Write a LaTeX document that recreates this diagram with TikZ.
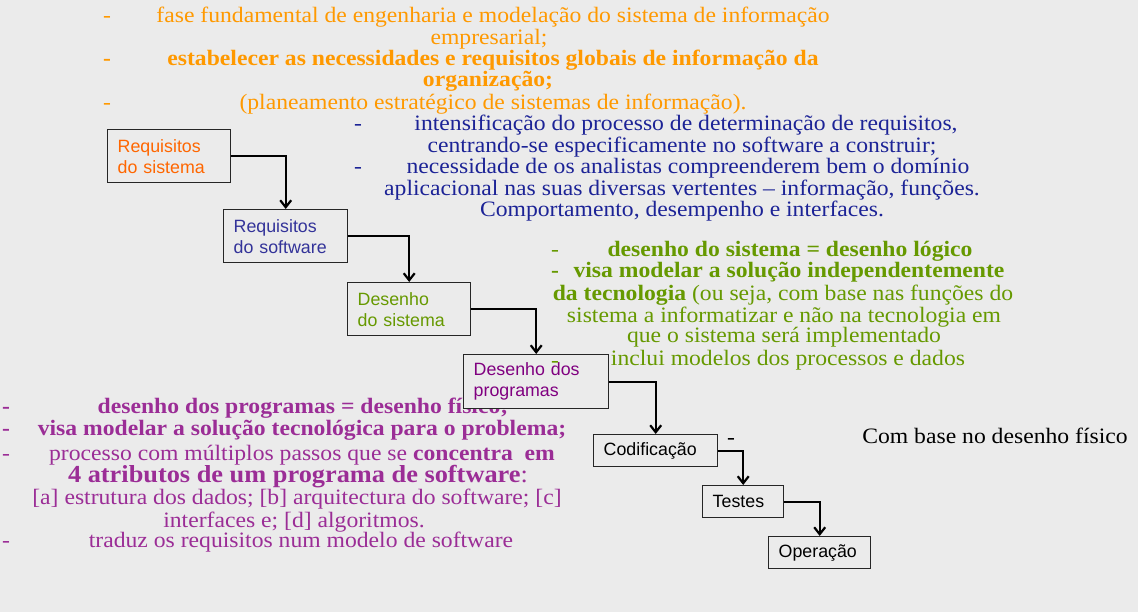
\documentclass[tikz,border=0pt]{standalone}
\usepackage{fontspec}
\setmainfont{Liberation Serif}[FakeStretch=1.075]
\newfontfamily\boxfont{Liberation Sans}
\usetikzlibrary{arrows.meta}

\definecolor{fundo}{HTML}{EBEBEB}
\definecolor{laranja}{HTML}{FF9900}
\definecolor{laranjacx}{HTML}{FF6600}
\definecolor{azul}{HTML}{1C2396}
\definecolor{azulcx}{HTML}{333399}
\definecolor{verde}{HTML}{669900}
\definecolor{roxo}{HTML}{9B2D96}
\definecolor{roxocx}{HTML}{800080}

\tikzset{
  stepbox/.style={draw=black!85, line width=1.4pt, fill=fundo, anchor=north west,
    inner xsep=10pt, inner ysep=0pt, align=left,
    font=\boxfont\fontsize{17.8}{21}\selectfont},
  flowarrow/.style={line width=2.2pt, -{Straight Barb[length=7pt,width=11pt]}},
  linha/.style={anchor=base, inner sep=0pt, font=\fontsize{22}{26}\selectfont},
  linhab/.style={linha, font=\fontsize{22}{26}\selectfont\bfseries},
}

\begin{document}
\begin{tikzpicture}[x=1pt,y=-1pt]
  \fill[fundo] (0,0) rectangle (1138,612);
  \useasboundingbox (0,0) rectangle (1138,612);

  % requisitos do sistema
  \node[linha, text=laranja] (tr1) at (107,23) {-};
  \node[linha, text=laranja] (fase) at (493,23) {fase fundamental de engenharia e modelação do sistema de informação};
  \node[linha, text=laranja] (empr) at (489,45) {empresarial;};
  \node[linhab, text=laranja] (tr2) at (107,66) {-};
  \node[linhab, text=laranja] (estab) at (493,66) {estabelecer as necessidades e requisitos globais de informação da};
  \node[linhab, text=laranja] (org) at (488,87) {organização;};
  \node[linha, text=laranja] (tr3) at (107,110) {-};
  \node[linha, text=laranja] (plan) at (493,110) {(planeamento estratégico de sistemas de informação).};

  % requisitos do software
  \node[linha, text=azul] (tr4) at (358,131) {-};
  \node[linha, text=azul] (intens) at (686,131) {intensificação do processo de determinação de requisitos,};
  \node[linha, text=azul] (centr) at (682,153) {centrando-se especificamente no software a construir;};
  \node[linha, text=azul] (tr5) at (358,174) {-};
  \node[linha, text=azul] (neces) at (688,174) {necessidade de os analistas compreenderem bem o domínio};
  \node[linha, text=azul] (aplic) at (682,196) {aplicacional nas suas diversas vertentes – informação, funções.};
  \node[linha, text=azul] (compo) at (682,217) {Comportamento, desempenho e interfaces.};

  % desenho do sistema
  \node[linha, text=verde] (tr6) at (555,257) {-};
  \node[linhab, text=verde] (logico) at (790,257) {desenho do sistema = desenho lógico};
  \node[linhab, text=verde] (tr7) at (555,278) {-};
  \node[linhab, text=verde] (indep) at (789,278) {visa modelar a solução independentemente};
  \node[linha, text=verde] (tecno) at (783,301) {\textbf{da tecnologia} (ou seja, com base nas funções do};
  \node[linha, text=verde] (infor) at (784,323) {sistema a informatizar e não na tecnologia em};
  \node[linha, text=verde] (impl) at (784,343) {que o sistema será implementado};
  \node[linha, text=verde] (model) at (788,366) {inclui modelos dos processos e dados};

  % desenho dos programas
  \node[linhab, text=roxo] (tr8) at (6,413) {-};
  \node[linhab, text=roxo] (fisico) at (303,413) {desenho dos programas = desenho físico;};
  \node[linhab, text=roxo] (tr9) at (6,435) {-};
  \node[linhab, text=roxo] (solu) at (302,435) {visa modelar a solução tecnológica para o problema;};
  \node[linha, text=roxo] (tr10) at (6,460) {-};
  \node[linha, text=roxo] (passos) at (302,460) {processo com múltiplos passos que se \textbf{concentra\ \ em}};
  \node[linha, text=roxo, font=\fontsize{24.5}{28}\selectfont\bfseries] (atrib) at (298,482) {4 atributos de um programa de software\textmd{:}};
  \node[linha, text=roxo] (estru) at (297,504) {[a] estrutura dos dados; [b] arquitectura do software; [c]};
  \node[linha, text=roxo] (algor) at (294,527) {interfaces e; [d] algoritmos.};
  \node[linha, text=roxo] (tr11) at (6,547) {-};
  \node[linha, text=roxo] (traduz) at (301,547) {traduz os requisitos num modelo de software};

  % etapas
  \node[stepbox, text width=103pt, minimum height=53pt, text=laranjacx] (rs) at (107,129) {Requisitos\\do sistema};
  \node[stepbox, text width=104pt, minimum height=53pt, text=azulcx] (rsw) at (223,209) {Requisitos\\do software};
  \node[stepbox, text width=103pt, minimum height=53pt, text=verde] (ds) at (347,282) {Desenho\\do sistema};
  \node[stepbox, text width=125pt, minimum height=54pt, text=roxocx] (dp) at (463,354) {Desenho dos\\programas};
  \node[stepbox, text width=104pt, minimum height=32pt] (cod) at (593,434) {Codificação};
  \node[stepbox, text width=61pt, minimum height=32pt] (tst) at (702,485) {Testes};
  \node[stepbox, text width=82pt, minimum height=32pt] (op) at (768,536) {Operação};

  \draw[flowarrow] (rs.east) -| (rsw.north);
  \draw[flowarrow] (rsw.east) -| (ds.north);
  \draw[flowarrow] (ds.east) -| (dp.north);
  \draw[flowarrow] (dp.east) -| (cod.north);
  \draw[flowarrow] (cod.east) -| (tst.north);
  \draw[flowarrow] (tst.east) -| (op.north);

  % por cima das caixas
  \node[linha, text=verde] (tr12) at (555,367) {-};
  \node[linha] (tr13) at (731,444) {-};
  \node[linha] (base) at (995,443) {Com base no desenho físico};
\end{tikzpicture}
\end{document}
